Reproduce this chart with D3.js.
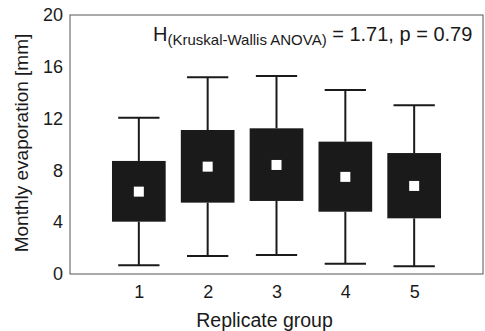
<!DOCTYPE html>
<html>
<head>
<meta charset="utf-8">
<script src="https://cdn.jsdelivr.net/npm/d3@7"></script>
<style>
  body { margin: 0; background: #fff; }
  svg text { font-family: "Liberation Sans", Arial, sans-serif; fill: #1a1a1a; }
</style>
</head>
<body>
<div id="chart"></div>
<script>
//Data
const groups = [1, 2, 3, 4, 5];
const q1 = [4.04, 5.51, 5.64, 4.81, 4.30];
const q3 = [8.73, 11.12, 11.25, 10.22, 9.34];
const medians = [6.36, 8.29, 8.42, 7.50, 6.80];
const whiskerLow = [0.67, 1.39, 1.47, 0.80, 0.60];
const whiskerHigh = [12.07, 15.19, 15.29, 14.20, 13.03];
const yTicks = [0, 4, 8, 12, 16, 20];

const data = groups.map((g, i) => ({
  g: g, q1: q1[i], q3: q3[i], med: medians[i], lo: whiskerLow[i], hi: whiskerHigh[i]
}));

//Dimensions
const width = 485, height = 331;
const margin = {top: 15, right: 2, bottom: 57, left: 70};

const svg = d3.select("#chart")
  .append("svg")
  .attr("width", width)
  .attr("height", height);

const x = d3.scaleLinear()
  .domain([0, 6])
  .range([margin.left, width - margin.right]);

const y = d3.scaleLinear()
  .domain([0, 20])
  .range([height - margin.bottom, margin.top]);

const boxW = x(0.78) - x(0);
const capW = x(0.6) - x(0);

//Frame
svg.append("rect")
  .attr("x", x(0))
  .attr("y", y(20))
  .attr("width", x(6) - x(0))
  .attr("height", y(0) - y(20))
  .attr("fill", "none")
  .attr("stroke", "#555")
  .attr("stroke-width", 1);

//Axes
const yAxis = svg.append("g")
  .attr("transform", `translate(${x(0)},0)`)
  .call(d3.axisLeft(y).tickValues(yTicks).tickSize(0).tickPadding(7));
yAxis.select(".domain").remove();
yAxis.selectAll("text").style("font-size", "18px").attr("fill", "#1a1a1a");

const xAxis = svg.append("g")
  .attr("transform", `translate(0,${y(0)})`)
  .call(d3.axisBottom(x).tickValues(groups).tickFormat(d3.format("d")).tickSize(0).tickPadding(11));
xAxis.select(".domain").remove();
xAxis.selectAll("text").style("font-size", "18px").attr("fill", "#1a1a1a");

//Whiskers
const wk = svg.append("g").attr("stroke", "#1a1a1a").attr("stroke-width", 2);
wk.selectAll(".upper")
  .data(data)
  .join("line")
  .attr("x1", d => x(d.g)).attr("x2", d => x(d.g))
  .attr("y1", d => y(d.q3)).attr("y2", d => y(d.hi));
wk.selectAll(".lower")
  .data(data)
  .join("line")
  .attr("x1", d => x(d.g)).attr("x2", d => x(d.g))
  .attr("y1", d => y(d.q1)).attr("y2", d => y(d.lo));
wk.selectAll(".capHi")
  .data(data)
  .join("line")
  .attr("x1", d => x(d.g) - capW / 2).attr("x2", d => x(d.g) + capW / 2)
  .attr("y1", d => y(d.hi)).attr("y2", d => y(d.hi));
wk.selectAll(".capLo")
  .data(data)
  .join("line")
  .attr("x1", d => x(d.g) - capW / 2).attr("x2", d => x(d.g) + capW / 2)
  .attr("y1", d => y(d.lo)).attr("y2", d => y(d.lo));

//Boxes
svg.selectAll(".box")
  .data(data)
  .join("rect")
  .attr("class", "box")
  .attr("x", d => x(d.g) - boxW / 2)
  .attr("y", d => y(d.q3))
  .attr("width", boxW)
  .attr("height", d => y(d.q1) - y(d.q3))
  .attr("fill", "#1a1a1a");

//Median markers
svg.selectAll(".med")
  .data(data)
  .join("rect")
  .attr("class", "med")
  .attr("x", d => x(d.g) - 5)
  .attr("y", d => y(d.med) - 5)
  .attr("width", 10)
  .attr("height", 10)
  .attr("fill", "#fff");

//Axis titles
svg.append("text")
  .attr("x", x(3) - 12)
  .attr("y", 327)
  .attr("text-anchor", "middle")
  .style("font-size", "19.5px")
  .text("Replicate group");

svg.append("text")
  .attr("transform", "translate(28,143) rotate(-90)")
  .attr("text-anchor", "middle")
  .style("font-size", "19px")
  .text("Monthly evaporation [mm]");

//Kruskal-Wallis annotation
const ann = svg.append("text")
  .attr("x", 153)
  .attr("y", 41)
  .style("font-size", "20px");
ann.append("tspan").text("H");
ann.append("tspan")
  .attr("dy", 4)
  .style("font-size", "15px")
  .text("(Kruskal-Wallis ANOVA)");
ann.append("tspan")
  .attr("dy", -4)
  .text(" = 1.71, p = 0.79");
</script>
</body>
</html>
